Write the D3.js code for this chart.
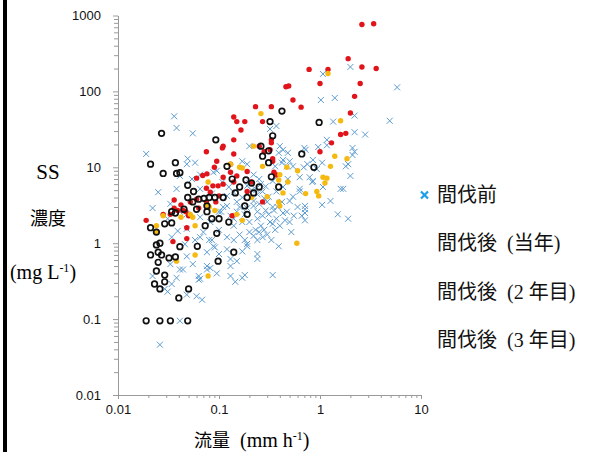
<!DOCTYPE html>
<html>
<head>
<meta charset="utf-8">
<script src="https://cdn.jsdelivr.net/npm/d3@7"></script>
<style>
  body { margin: 0; background: #fff; }
  svg { display: block; }
</style>
</head>
<body>
<div id="chart"></div>
<script>
// flow (mm h-1), SS (mg L-1)
const before = [
  [0.036,47],[0.038,33],[0.055,28],[0.019,15],[1.07,170],[2.0,210],[1.02,77],[1.4,82],[1.35,40],[2.2,48],
  [2.2,29],[2.8,27],[5.8,113],[4.9,41],[2.1,18],[0.37,35],[0.32,32],[0.40,19],[0.70,18],[0.96,18.5],
  [1.17,19.5],[0.20,19],[2.1,14.5],[1.9,11],[0.85,12.5],[1.05,11.5],[0.75,11],[1.7,5.2],[0.84,6.4],[0.025,4.7],
  [0.049,13],[1.5,2.4],[1.9,2.1],[0.71,2.8],[1.27,3.6],[1.05,3.2],[0.66,2.3],[0.52,1.4],[0.39,0.91],[0.34,0.38],
  [0.18,0.38],[0.13,0.37],[0.063,0.37],[0.038,0.35],[0.022,0.37],[0.79,7.4],[0.63,4.8],[0.42,11.5],[0.48,15.5],[0.71,2.5],
  [0.71,2.0],[0.50,1.9],[0.19,0.91],[0.24,0.72],[0.24,0.62],[0.17,0.35],[0.43,2.5],[0.34,1.8],[0.20,1.4],[0.17,1.9],
  [0.033,0.53],[0.031,0.23],[0.063,0.33],[0.076,0.50],[0.082,0.47],[0.048,0.21],[0.060,0.20],[0.068,0.18],[0.145,0.31],[0.041,0.095],
  [0.026,0.046],[0.13,0.62],[0.058,11.5],[0.065,8.0],[0.088,8.6],[0.038,5.2],
  [0.43,17],[0.39,15.5],[0.50,12],[0.47,10.3],[0.54,10.3],[0.72,17],[0.69,10],[0.63,7.4],[0.85,6.6],[2.2,16],
  [1.8,10.3],[2.0,7.7],[1.6,5.2],[1.07,5.5],[0.63,5.2],[0.54,4.1],[0.43,5.5],[0.34,6.6],[0.25,7.0],[0.22,8.0],
  [0.19,11],[0.17,12],[0.19,5.7],[0.23,5.2],[0.43,12.5],[0.48,7.0],[0.36,10.3],[0.37,4.8],[0.31,4.1],[0.93,9.5],[1.17,23],
  [0.19,2.9],[0.22,3.1],[0.25,3.3],[0.30,3.5],[0.34,3.0],[0.42,3.5],[0.50,3.6],[0.20,1.9],[0.24,2.1],[0.27,2.3],
  [0.32,1.9],[0.23,1.5],[0.25,1.4],[0.24,1.1],[0.18,1.1],[0.19,0.98],[0.37,2.1],[0.47,2.6],[0.71,3.1],
  [0.033,3.3],[0.039,1.45],[0.034,1.2],[0.046,0.97],[0.058,1.1],[0.07,1.4],[0.085,1.1],[0.10,1.5],[0.12,1.2],[0.14,1.7],
  [0.14,1.1],[0.12,0.83],[0.13,0.5],[0.15,0.58],[0.065,0.34],[0.076,0.45],[0.095,0.4],[0.055,0.53],[0.041,0.45],[0.029,0.25],
  [0.034,0.29],[0.048,0.67],[0.076,0.76],[0.091,0.88],[0.105,2.6],[0.13,2.3],[0.15,2.6],[0.12,3.1],[0.14,2.1],[0.048,2.4],
  [0.041,2.6],[0.065,2.2],[0.082,1.9],[0.031,2.1],
  [0.048,11],[0.041,7.7],[0.054,7.0],[0.065,5.2],[0.095,9.0],[0.108,6.4],[0.125,5.5],[0.14,4.7],[0.085,4.5],
  [0.022,2.9],[0.048,1.55],[0.065,1.2],[0.08,1.1],[0.088,0.91],[0.10,0.72],[0.044,0.45],
  [0.21,5.0],[0.24,4.4],[0.27,4.8],[0.29,5.6],[0.26,6.0],[0.28,3.9],[0.22,3.6],[0.24,2.6],[0.29,2.7],[0.31,2.4],
  [0.35,2.7],[0.38,3.0],[0.26,1.7],[0.28,1.5],[0.30,1.3],[0.22,1.25],[0.27,1.2],[0.33,1.1],[0.36,1.5],[0.40,1.7],
  [0.45,2.0],[0.55,2.3],[0.60,3.0],[0.18,2.4],[0.16,3.0],[0.17,4.0],[0.15,3.5],[0.20,6.2],[0.12,4.2],[0.11,3.0],
  [0.10,2.6],[0.16,1.3],[0.17,0.78]
]

const year1 = [
  [2.6,760],[3.4,780],[1.9,270],[2.6,210],[3.6,200],[0.78,195],[1.2,195],[1.0,127],[2.5,127],[0.46,115],
  [0.49,118],[2.2,86],[0.54,77],[0.65,62],[0.23,63],[0.33,63],[0.14,46],[0.15,40],[0.18,40],[0.27,40],
  [0.165,31],[2.0,52],[1.6,27],[1.8,28],[1.3,21],[0.14,23],[0.33,23],[0.11,19],[0.108,18],[1.0,16],
  [0.075,16],[0.095,12],[0.14,15],[0.13,11],[0.09,10],[0.13,8.6],[0.076,8.2],[0.15,7.7],[0.11,7.4],[0.14,6.4],
  [0.11,6.0],[0.098,5.7],[0.087,5.7],[0.075,5.3],[0.082,4.7],[0.10,4.2],[0.093,3.5],[0.075,3.5],[0.060,3.8],[0.052,3.5],
  [0.042,3.2],[0.036,3.7],[0.036,2.9],[0.039,2.7],[0.044,2.7],[0.047,2.6],[0.063,2.9],[0.050,2.3],[0.033,2.4],[0.019,2.0],
  [0.048,1.6],[0.035,1.05],[0.135,2.3],[0.25,19],[0.28,16],[0.33,21],[0.34,13],[0.21,6.4],[0.19,4.8],[0.27,3.5],
  [0.32,17],[0.34,12],[0.19,8.8],[0.35,8.6],[0.37,7.9],[0.069,7.8],[0.060,7.2],[0.028,2.4],[0.048,1.15]
]

const year2 = [
  [0.26,51],[1.2,172],[1.6,41],[0.22,19],[1.4,14],[1.27,10.3],[1.85,13],[1.07,7.4],[1.17,7.2],[1.12,6.2],
  [0.93,4.8],[0.72,4.5],[0.97,4.2],[0.59,1.0],[0.47,10],[0.60,9.0],[0.40,8.0],[0.48,6.4],[0.43,4.6],[0.39,3.5],
  [0.40,3.1],[0.30,4.1],[0.21,4.0],[0.16,10],[0.13,11],[0.17,2.0],[0.15,2.4],[0.091,2.7],[0.078,6.4],[0.075,3.2],
  [0.055,2.2],[0.042,2.2],[0.028,2.3],[0.024,1.7],[0.058,0.70],[0.038,0.58],[0.078,0.37],[0.39,6.8],[0.17,9.8],[0.27,10.3],
  [0.024,1.4],[0.052,2.4],[0.058,1.7],[0.080,3.0]
]

const year3 = [
  [0.027,28],[0.093,23],[0.42,55],[0.32,40],[0.34,26],[0.26,19],[0.98,39],[0.66,15],[0.87,10],[0.021,11],
  [0.037,11.5],[0.028,8.3],[0.038,8.3],[0.041,8.5],[0.12,10.3],[0.135,7.0],[0.049,5.8],[0.31,16.5],[0.27,14],[0.31,11.5],
  [0.33,7.5],[0.185,6.8],[0.21,6.2],[0.25,5.5],[0.22,4.6],[0.145,4.6],[0.11,4.0],[0.16,5.5],[0.19,4.0],[0.18,3.1],
  [0.19,2.4],[0.39,5.5],[0.056,4.8],[0.049,4.0],[0.063,3.8],[0.071,3.9],[0.080,4.0],[0.091,4.0],[0.055,3.5],[0.037,2.5],
  [0.034,2.6],[0.045,2.8],[0.060,2.8],[0.076,2.6],[0.076,3.1],[0.085,2.1],[0.10,2.1],[0.125,1.9],[0.073,1.7],[0.095,1.35],
  [0.029,1.8],[0.034,1.85],[0.021,1.6],[0.024,1.4],[0.024,0.95],[0.026,1.0],[0.041,0.9],[0.061,0.91],[0.021,0.70],[0.025,0.76],
  [0.027,0.70],[0.032,0.64],[0.037,0.66],[0.025,0.56],[0.098,0.58],[0.14,0.76],[0.024,0.43],[0.029,0.38],[0.023,0.29],[0.029,0.31],
  [0.026,0.25],[0.040,0.19],[0.050,0.25],[0.019,0.095],[0.026,0.095],[0.033,0.095],[0.049,0.095]
]

const xTicks = [0.01, 0.1, 1, 10]
const xTickLabels = ["0.01", "0.1", "1", "10"]
const yTicks = [0.01, 0.1, 1, 10, 100, 1000]
const yTickLabels = ["0.01", "0.1", "1", "10", "100", "1000"]
const legendLabels = ["間伐前", "間伐後\u00a0 (当年)", "間伐後\u00a0 (2 年目)", "間伐後\u00a0 (3 年目)"]

const width = 590
const height = 452

const svg = d3.select("#chart")
    .append("svg")
    .attr("width", width)
    .attr("height", height)

svg.append("rect").attr("width", width).attr("height", height).attr("fill", "#fff")
// black bar on the left edge
svg.append("rect").attr("x", 3).attr("y", 0).attr("width", 4).attr("height", height).attr("fill", "#000")

const x = d3.scaleLog().domain([0.01, 10]).range([118, 421])
const y = d3.scaleLog().domain([0.01, 1000]).range([395, 15.5])

// minor ticks 2..9 in each decade
const minor = dom => {
    const out = []
    for (let e = Math.log10(dom[0]); e < Math.log10(dom[1]); e++)
        for (let k = 2; k < 10; k++) out.push(k * Math.pow(10, e))
    return out
}

const axisColor = "#9a9a9a"
const tickFont = "'Liberation Sans', Arial, sans-serif"

const styleAxis = g => {
    g.select(".domain").attr("stroke", axisColor)
    g.selectAll(".tick line").attr("stroke", axisColor)
    g.selectAll(".tick text")
        .attr("fill", "#111")
        .style("font-family", tickFont)
        .style("font-size", "13px")
}

svg.append("g")
    .attr("transform", "translate(118,0)")
    .call(d3.axisLeft(y).tickValues(minor(y.domain())).tickFormat("").tickSize(4).tickSizeOuter(0))
    .call(styleAxis)
svg.append("g")
    .attr("transform", "translate(118,0)")
    .call(d3.axisLeft(y).tickValues(yTicks).tickFormat((d, i) => yTickLabels[i]).tickSize(5).tickPadding(12).tickSizeOuter(0))
    .call(styleAxis)

svg.append("g")
    .attr("transform", "translate(0,395)")
    .call(d3.axisBottom(x).tickValues(minor(x.domain())).tickFormat("").tickSize(3).tickSizeOuter(0))
    .call(styleAxis)
svg.append("g")
    .attr("transform", "translate(0,395)")
    .call(d3.axisBottom(x).tickValues(xTicks).tickFormat((d, i) => xTickLabels[i]).tickSize(4).tickPadding(6).tickSizeOuter(0))
    .call(styleAxis)

const plot = svg.append("g")

// 間伐前: blue crosses
plot.selectAll("path.before")
    .data(before)
    .enter()
    .append("path")
    .attr("class", "before")
    .attr("d", d => `M${x(d[0]) - 3},${y(d[1]) - 3}l6,6m0,-6l-6,6`)
    .attr("stroke", "#5c9bd0")
    .attr("stroke-width", 1)
    .attr("fill", "none")

plot.selectAll("circle.y1")
    .data(year1)
    .enter()
    .append("circle")
    .attr("class", "y1")
    .attr("cx", d => x(d[0]))
    .attr("cy", d => y(d[1]))
    .attr("r", 2.7)
    .attr("fill", "#e0141a")

plot.selectAll("circle.y2")
    .data(year2)
    .enter()
    .append("circle")
    .attr("class", "y2")
    .attr("cx", d => x(d[0]))
    .attr("cy", d => y(d[1]))
    .attr("r", 2.7)
    .attr("fill", "#f5b90f")

plot.selectAll("circle.y3")
    .data(year3)
    .enter()
    .append("circle")
    .attr("class", "y3")
    .attr("cx", d => x(d[0]))
    .attr("cy", d => y(d[1]))
    .attr("r", 2.8)
    .attr("fill", "none")
    .attr("stroke", "#111")
    .attr("stroke-width", 1.7)

// axis titles
const serif = "'Liberation Serif', 'Times New Roman', serif"
const cjk = "'Noto Sans CJK JP', sans-serif"

svg.append("text")
    .attr("x", 48).attr("y", 179)
    .attr("text-anchor", "middle")
    .style("font-family", serif).style("font-size", "21px")
    .text("SS")

svg.append("text")
    .attr("x", 48).attr("y", 225)
    .attr("text-anchor", "middle")
    .style("font-family", cjk).style("font-size", "18px")
    .text("濃度")

const ylab = svg.append("text")
    .attr("x", 43).attr("y", 279)
    .attr("text-anchor", "middle")
    .style("font-family", serif).style("font-size", "20px")
ylab.append("tspan").text("(mg L")
ylab.append("tspan").attr("dy", -7).style("font-size", "12px").text("-1")
ylab.append("tspan").attr("dy", 7).text(")")

const xlab = svg.append("text")
    .attr("x", 194).attr("y", 447)
    .style("font-size", "20px")
xlab.append("tspan").style("font-family", cjk).style("font-size", "18px").text("流量")
xlab.append("tspan").style("font-family", serif).text("\u00a0 (mm h")
xlab.append("tspan").style("font-family", serif).attr("dy", -7).style("font-size", "12px").text("-1")
xlab.append("tspan").style("font-family", serif).attr("dy", 7).text(")")

// legend (only the first entry shows its marker)
const legendY = [195, 243, 292, 340]
svg.append("path")
    .attr("d", `M${421},${legendY[0] - 3.5}l7,7m0,-7l-7,7`)
    .attr("stroke", "#1a9fe6")
    .attr("stroke-width", 2.2)

svg.selectAll("text.legend")
    .data(legendLabels)
    .enter()
    .append("text")
    .attr("class", "legend")
    .attr("x", 437)
    .attr("y", (d, i) => legendY[i] + 7)
    .style("font-family", "'Liberation Serif', 'Noto Sans CJK JP', serif")
    .style("font-size", "20px")
    .attr("fill", "#111")
    .text(d => d)
</script>
</body>
</html>
